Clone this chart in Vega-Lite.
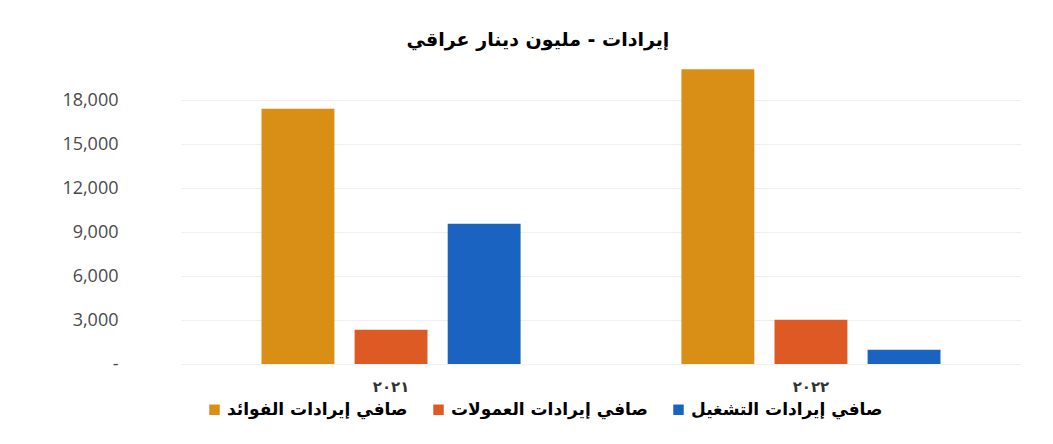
{
  "$schema": "https://vega.github.io/schema/vega-lite/v6.json",
  "width": 840,
  "height": 308,
  "autosize": {"type": "none"},
  "padding": {"left": 181, "top": 56, "right": 32, "bottom": 80},
  "background": "#ffffff",
  "title": {
    "text": "إيرادات - مليون دينار عراقي",
    "anchor": "middle",
    "dx": -63,
    "offset": 6,
    "font": "DejaVu Sans",
    "fontSize": 19,
    "fontWeight": "bold",
    "color": "#000000"
  },
  "data": {
    "values": [
      {"year": "٢٠٢١", "series": "صافي إيرادات الفوائد", "value": 17400},
      {"year": "٢٠٢١", "series": "صافي إيرادات العمولات", "value": 2330},
      {"year": "٢٠٢١", "series": "صافي إيرادات التشغيل", "value": 9560},
      {"year": "٢٠٢٢", "series": "صافي إيرادات الفوائد", "value": 20100},
      {"year": "٢٠٢٢", "series": "صافي إيرادات العمولات", "value": 3010},
      {"year": "٢٠٢٢", "series": "صافي إيرادات التشغيل", "value": 970}
    ]
  },
  "mark": {"type": "bar"},
  "encoding": {
    "x": {
      "field": "year",
      "type": "nominal",
      "sort": ["٢٠٢١", "٢٠٢٢"],
      "scale": {"paddingInner": 0.383, "paddingOuter": 0.1917},
      "axis": {
        "title": null,
        "domain": false,
        "ticks": false,
        "labelAngle": 0,
        "labelPadding": 15,
        "labelFont": "DejaVu Sans",
        "labelFontSize": 15,
        "labelFontWeight": "bold",
        "labelColor": "#333333"
      }
    },
    "xOffset": {
      "field": "series",
      "type": "nominal",
      "sort": ["صافي إيرادات الفوائد", "صافي إيرادات العمولات", "صافي إيرادات التشغيل"],
      "scale": {"paddingInner": 0.217, "paddingOuter": 0}
    },
    "y": {
      "field": "value",
      "type": "quantitative",
      "scale": {"domain": [0, 21000], "nice": false},
      "axis": {
        "title": null,
        "values": [0, 3000, 6000, 9000, 12000, 15000, 18000],
        "labelExpr": "datum.value == 0 ? '-' : format(datum.value, ',')",
        "domain": false,
        "ticks": false,
        "grid": true,
        "gridColor": "#efefef",
        "labelPadding": 63,
        "labelFont": "Open Sans",
        "labelFontSize": 18,
        "labelColor": "#4a4a4a"
      }
    },
    "color": {
      "field": "series",
      "type": "nominal",
      "sort": ["صافي إيرادات الفوائد", "صافي إيرادات العمولات", "صافي إيرادات التشغيل"],
      "scale": {
        "domain": ["صافي إيرادات الفوائد", "صافي إيرادات العمولات", "صافي إيرادات التشغيل"],
        "range": ["#D98E15", "#DD5A24", "#1A63C1"]
      },
      "legend": {
        "title": null,
        "orient": "none",
        "legendX": 25,
        "legendY": 345,
        "direction": "horizontal",
        "symbolType": "square",
        "symbolSize": 110,
        "symbolStrokeWidth": 0,
        "labelFont": "DejaVu Sans",
        "labelFontSize": 17,
        "labelFontWeight": "bold",
        "labelColor": "#000000",
        "labelLimit": 300,
        "columnPadding": 22
      }
    }
  },
  "config": {
    "view": {"stroke": null}
  }
}
